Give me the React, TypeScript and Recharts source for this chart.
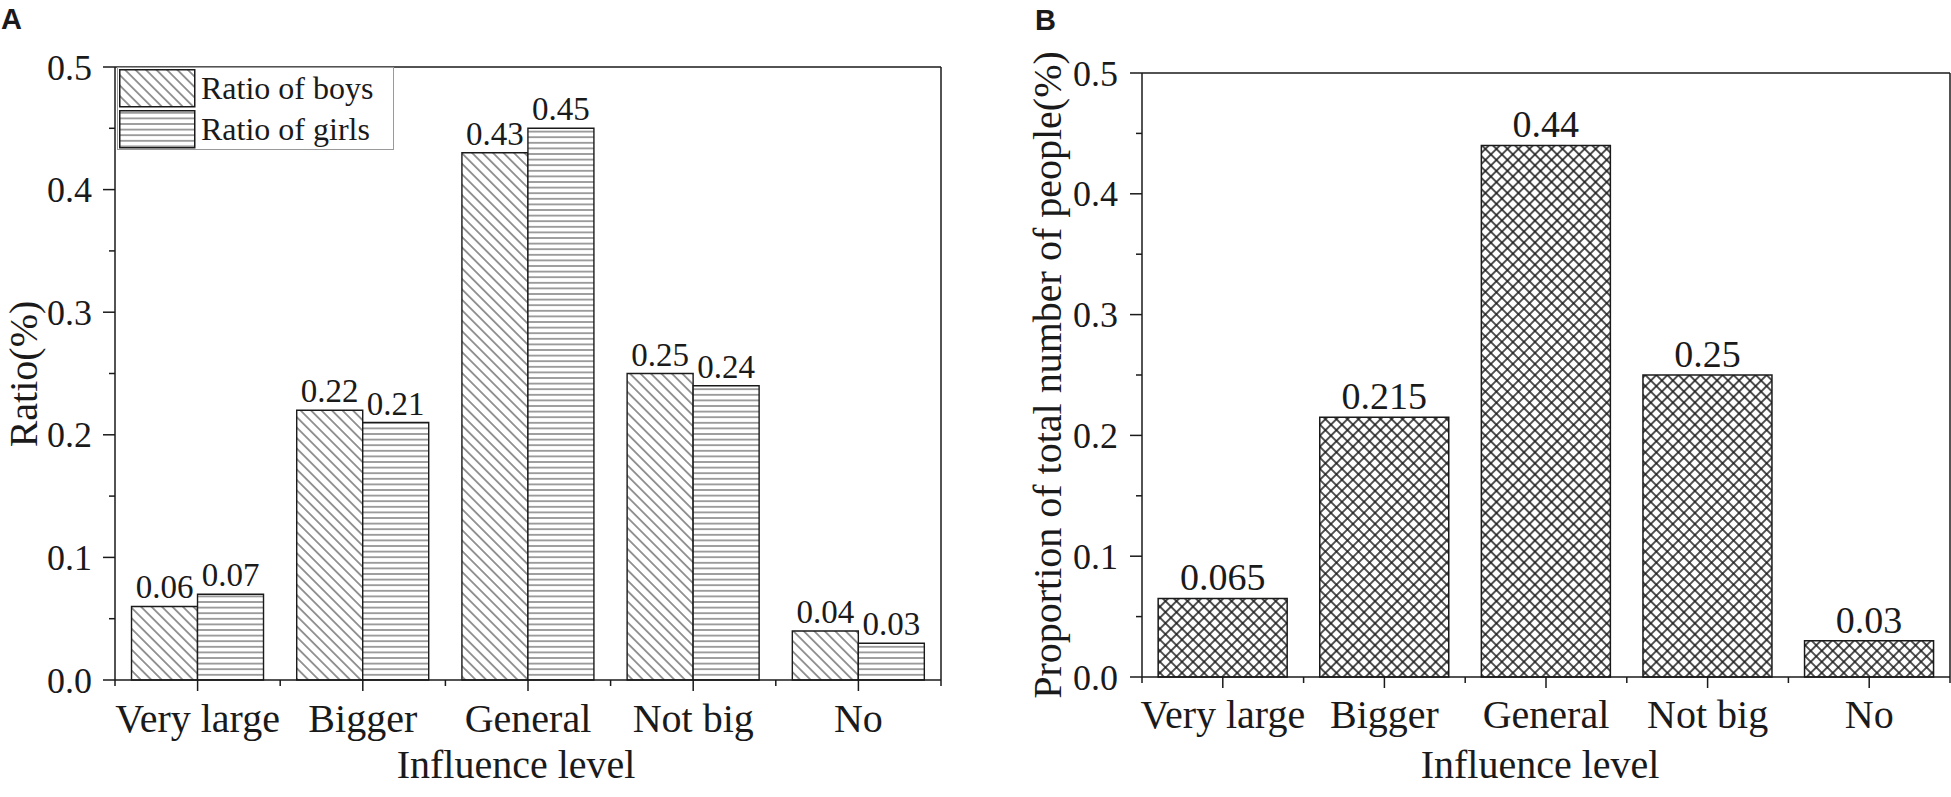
import React from "react"
import { Bar, BarChart, LabelList, Legend, XAxis, YAxis } from "recharts"

const SERIF = '"Liberation Serif", "Times New Roman", serif'
const SANS = '"Liberation Sans", Arial, sans-serif'
const INK = "#1a1a1a"
const HATCH = "#555"

// data
const categories = ["Very large", "Bigger", "General", "Not big", "No"]
const boysRatio = [0.06, 0.22, 0.43, 0.25, 0.04]
const girlsRatio = [0.07, 0.21, 0.45, 0.24, 0.03]
const totalRatio = [0.065, 0.215, 0.44, 0.25, 0.03]
const yTicks = [0, 0.05, 0.1, 0.15, 0.2, 0.25, 0.3, 0.35, 0.4, 0.45, 0.5]
const legendRows = [
	{ name: "Ratio of boys", pat: "hatchBoys" },
	{ name: "Ratio of girls", pat: "hatchGirls" },
]

const dataA = categories.map((cat, i) => ({ cat, boys: boysRatio[i], girls: girlsRatio[i] }))
const dataB = categories.map((cat, i) => ({ cat, total: totalRatio[i] }))

const axisLine = { stroke: INK, strokeWidth: 1.5 }

// y ticks: long tick + label on tenths, short tick on the half steps
function YTick(props: any) {
	const { x, y, payload, fontSize, gap } = props
	const v = Number(payload.value)
	const major = Math.abs(v * 10 - Math.round(v * 10)) < 1e-6
	return (
		<g>
			<line x1={x - (major ? 12 : 6)} x2={x} y1={y} y2={y} stroke={INK} strokeWidth={1.5} />
			{major && (
				<text x={x - gap} y={y} dy={fontSize * 0.35} textAnchor="end" fontSize={fontSize} fill={INK}>
					{v.toFixed(1)}
				</text>
			)}
		</g>
	)
}

// x ticks: long tick under each category, short ticks on the band edges
function XTick(props: any) {
	const { x, y, payload, index, band, count, fontSize, dy } = props
	const half = band / 2
	return (
		<g>
			<line x1={x} x2={x} y1={y} y2={y + 11} stroke={INK} strokeWidth={1.5} />
			<line x1={x - half} x2={x - half} y1={y} y2={y + 6} stroke={INK} strokeWidth={1.5} />
			{index === count - 1 && (
				<line x1={x + half} x2={x + half} y1={y} y2={y + 6} stroke={INK} strokeWidth={1.5} />
			)}
			<text x={x} y={y + dy} textAnchor="middle" fontSize={fontSize} fill={INK}>
				{payload.value}
			</text>
		</g>
	)
}

function LegendBox() {
	return (
		<div
			style={{
				width: 277,
				height: 83,
				border: "1px solid #9a9a9a",
				boxSizing: "border-box",
				background: "#fff",
				fontFamily: SERIF,
				fontSize: 32,
				color: INK,
			}}
		>
			{legendRows.map((r) => (
				<div key={r.name} style={{ display: "flex", alignItems: "center", height: 41 }}>
					<svg width={77} height={39} style={{ display: "block", marginLeft: 1 }}>
						<rect x={0.75} y={0.75} width={75} height={37} fill={`url(#${r.pat})`} stroke={INK} strokeWidth={1.5} />
					</svg>
					<span style={{ marginLeft: 5, lineHeight: "41px" }}>{r.name}</span>
				</div>
			))}
		</div>
	)
}

function ChartA() {
	const band = 826 / categories.length
	return (
		<BarChart
			width={1000}
			height={797}
			data={dataA}
			margin={{ top: 66, right: 58, bottom: 116, left: 114 }}
			barCategoryGap="10%"
			barGap={0}
		>
			<defs>
				<pattern id="hatchBoys" patternUnits="userSpaceOnUse" width={7.4} height={7.4} patternTransform="rotate(-45)">
					<rect width={7.4} height={7.4} fill="#fff" />
					<line x1={3.7} y1={0} x2={3.7} y2={7.4} stroke={HATCH} strokeWidth={1.2} />
				</pattern>
				<pattern id="hatchGirls" patternUnits="userSpaceOnUse" width={8} height={5.6}>
					<rect width={8} height={5.6} fill="#fff" />
					<line x1={0} y1={2.8} x2={8} y2={2.8} stroke={HATCH} strokeWidth={1.1} />
				</pattern>
			</defs>
			<XAxis
				dataKey="cat"
				height={1}
				tickSize={0}
				tickMargin={0}
				interval={0}
				axisLine={axisLine}
				tickLine={false}
				tick={(p: any) => <XTick {...p} band={band} count={categories.length} fontSize={40} dy={52} />}
			/>
			<XAxis xAxisId="top" dataKey="cat" orientation="top" height={1} tick={false} tickLine={false} axisLine={axisLine} />
			<YAxis
				type="number"
				domain={[0, 0.5]}
				ticks={yTicks}
				interval={0}
				width={1}
				tickSize={0}
				tickMargin={0}
				axisLine={axisLine}
				tickLine={false}
				tick={(p: any) => <YTick {...p} fontSize={36} gap={23} />}
			/>
			<YAxis yAxisId="right" orientation="right" type="number" domain={[0, 0.5]} width={1} tick={false} tickLine={false} axisLine={axisLine} />
			<Legend
				layout="vertical"
				align="center"
				verticalAlign="middle"
				content={() => <LegendBox />}
				wrapperStyle={{ left: 117, top: 67, width: 277, height: 83 }}
			/>
			<Bar dataKey="boys" name="Ratio of boys" fill="url(#hatchBoys)" stroke={INK} strokeWidth={1.4} isAnimationActive={false}>
				<LabelList dataKey="boys" position="top" offset={8} fill={INK} fontSize={33} />
			</Bar>
			<Bar dataKey="girls" name="Ratio of girls" fill="url(#hatchGirls)" stroke={INK} strokeWidth={1.4} isAnimationActive={false}>
				<LabelList dataKey="girls" position="top" offset={8} fill={INK} fontSize={33} />
			</Bar>
		</BarChart>
	)
}

function ChartB() {
	const band = 808 / categories.length
	return (
		<BarChart
			width={951}
			height={797}
			data={dataB}
			margin={{ top: 72, right: 0, bottom: 119, left: 141 }}
			barCategoryGap="10%"
		>
			<defs>
				<pattern id="crossHatch" patternUnits="userSpaceOnUse" width={7.8} height={7.8} patternTransform="rotate(45)">
					<rect width={7.8} height={7.8} fill="#fff" />
					<line x1={3.9} y1={0} x2={3.9} y2={7.8} stroke={INK} strokeWidth={1.5} />
					<line x1={0} y1={3.9} x2={7.8} y2={3.9} stroke={INK} strokeWidth={1.5} />
				</pattern>
			</defs>
			<XAxis
				dataKey="cat"
				height={1}
				tickSize={0}
				tickMargin={0}
				interval={0}
				axisLine={axisLine}
				tickLine={false}
				tick={(p: any) => <XTick {...p} band={band} count={categories.length} fontSize={40} dy={51} />}
			/>
			<XAxis xAxisId="top" dataKey="cat" orientation="top" height={1} tick={false} tickLine={false} axisLine={axisLine} />
			<YAxis
				type="number"
				domain={[0, 0.5]}
				ticks={yTicks}
				interval={0}
				width={1}
				tickSize={0}
				tickMargin={0}
				axisLine={axisLine}
				tickLine={false}
				tick={(p: any) => <YTick {...p} fontSize={36} gap={24} />}
			/>
			<YAxis yAxisId="right" orientation="right" type="number" domain={[0, 0.5]} width={1} tick={false} tickLine={false} axisLine={axisLine} />
			<Bar dataKey="total" fill="url(#crossHatch)" stroke={INK} strokeWidth={1.5} isAnimationActive={false}>
				<LabelList dataKey="total" position="top" offset={8} fill={INK} fontSize={38} />
			</Bar>
		</BarChart>
	)
}

export default function App() {
	return (
		<div style={{ position: "absolute", left: 0, top: 0, width: 1951, height: 797, background: "#fff", fontFamily: SERIF, overflow: "hidden" }}>
			<div style={{ position: "absolute", left: 0, top: 0 }}>
				<ChartA />
			</div>
			<div style={{ position: "absolute", left: 1000, top: 0 }}>
				<ChartB />
			</div>
			<svg width={1951} height={797} style={{ position: "absolute", left: 0, top: 0, pointerEvents: "none" }}>
				<text x={1} y={29} fontFamily={SANS} fontWeight="bold" fontSize={29} fill={INK}>A</text>
				<text x={1035} y={30} fontFamily={SANS} fontWeight="bold" fontSize={29} fill={INK}>B</text>
				<text x={37} y={374} transform="rotate(-90, 37, 374)" textAnchor="middle" fontSize={40} fill={INK}>Ratio(%)</text>
				<text x={1061} y={375} transform="rotate(-90, 1061, 375)" textAnchor="middle" fontSize={40} fill={INK}>
					Proportion of total number of people(%)
				</text>
				<text x={516} y={778} textAnchor="middle" fontSize={40} fill={INK}>Influence level</text>
				<text x={1540} y={778} textAnchor="middle" fontSize={40} fill={INK}>Influence level</text>
			</svg>
		</div>
	)
}
